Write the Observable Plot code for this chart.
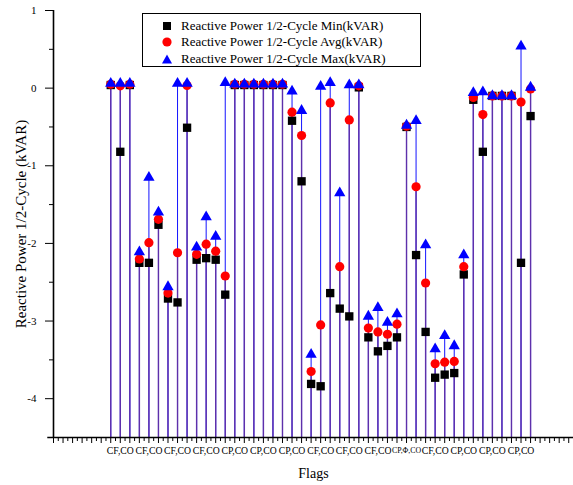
<!DOCTYPE html>
<html>
<head>
<meta charset="utf-8">
<script src="https://cdn.jsdelivr.net/npm/d3@7"></script>
<script src="https://cdn.jsdelivr.net/npm/@observablehq/plot@0.6"></script>
<style>
  html, body { margin: 0; padding: 0; background: #fff; }
  #wrap { position: relative; width: 573px; height: 485px; font-family: "Liberation Serif", "DejaVu Serif", serif; }
  #wrap svg, #wrap svg text { font-family: "Liberation Serif", "DejaVu Serif", serif !important; }
  #legend { position: absolute; left: 142px; top: 13px; width: 279px; height: 54px; border: 1px solid #000; background: #fff; box-sizing: border-box; }
  .row { position: absolute; left: 0; height: 16px; font-size: 13px; line-height: 16px; color: #000; white-space: nowrap; }
  .row svg { position: absolute; left: 18px; top: 2px; }
  .row span { position: absolute; left: 38px; top: 0; }
</style>
</head>
<body>
<div id="wrap"></div>
<script>
// ---- data ----
const flagIndex = d3.range(1, 46);
const minVals = [0.04, -0.82, 0.04, -2.25, -2.25, -1.76, -2.71, -2.76, -0.51, -2.21,
  -2.19, -2.21, -2.66, 0.04, 0.04, 0.04, 0.04, 0.04, 0.04, -0.42,
  -1.20, -3.81, -3.84, -2.64, -2.84, -2.94, 0.01, -3.21, -3.39, -3.32,
  -3.21, -0.50, -2.15, -3.14, -3.73, -3.69, -3.67, -2.40, -0.15, -0.82,
  -0.10, -0.10, -0.10, -2.25, -0.36];
const avgVals = [0.05, 0.03, 0.05, -2.20, -1.99, -1.69, -2.64, -2.12, 0.035, -2.14,
  -2.01, -2.10, -2.42, 0.05, 0.05, 0.05, 0.05, 0.05, 0.05, -0.31,
  -0.61, -3.65, -3.05, -0.19, -2.30, -0.41, 0.03, -3.09, -3.14, -3.17,
  -3.04, -0.49, -1.27, -2.51, -3.55, -3.53, -3.52, -2.30, -0.12, -0.34,
  -0.10, -0.10, -0.10, -0.18, -0.01];
const maxVals = [0.06, 0.06, 0.06, -2.11, -1.15, -1.60, -2.56, 0.06, 0.06, -2.05,
  -1.66, -1.91, 0.07, 0.05, 0.05, 0.05, 0.05, 0.05, 0.05, -0.04,
  -0.29, -3.43, 0.02, 0.07, -1.35, 0.04, 0.04, -2.94, -2.83, -3.02,
  -2.91, -0.48, -0.42, -2.02, -3.36, -3.19, -3.32, -2.15, -0.06, -0.05,
  -0.10, -0.10, -0.10, 0.54, 0.01];
const labelIndex = [2, 5, 8, 11, 14, 17, 20, 23, 26, 29, 32, 35, 38, 41, 44];
const flagLabels = ["CF,CO", "CF,CO", "CF,CO", "CF,CO", "CP,CO", "CP,CO", "CP,CO", "CF,CO",
  "CF,CO", "CF,CO", "CP,Φ,CO", "CF,CO", "CP,CO", "CP,CO", "CP,CO"];
const yTicks = [-4, -3, -2, -1, 0, 1];
const yMinorTicks = [-3.5, -2.5, -1.5, -0.5, 0.5];
const seriesNames = ["Reactive Power 1/2-Cycle Min(kVAR)", "Reactive Power 1/2-Cycle Avg(kVAR)", "Reactive Power 1/2-Cycle Max(kVAR)"];
const yTitle = "Reactive Power 1/2-Cycle (kVAR)";
const xTitle = "Flags";
const xDomain = [-5, 49.5];
const yDomain = [-4.5, 1];

const data = flagIndex.map((i, k) => ({ i, min: minVals[k], avg: avgVals[k], max: maxVals[k] }));
const tickLabels = labelIndex.map((i, k) => ({ i, label: flagLabels[k] }));
const xMajor = d3.range(xDomain[0], xDomain[1] + 0.01, 1);
const xHalf = d3.range(xDomain[0] + 0.5, xDomain[1] + 0.01, 1);
const serif = "Liberation Serif, DejaVu Serif, serif";

const chart = Plot.plot({
  width: 573,
  height: 485,
  marginLeft: 53,
  marginRight: 0,
  marginTop: 10,
  marginBottom: 48,
  style: { fontFamily: serif, background: "#fff", overflow: "visible" },
  x: { domain: xDomain, axis: null },
  y: { domain: yDomain, axis: null },
  marks: [
    // drop lines
    Plot.ruleX(data, { x: "i", y1: yDomain[0], y2: "max", stroke: "#1414ff", strokeWidth: 1 }),
    Plot.ruleX(data, { x: "i", y1: yDomain[0], y2: "avg", stroke: "#5e30aa", strokeWidth: 1.4 }),
    // markers
    Plot.dot(data, { x: "i", y: "min", symbol: "square", fill: "#000", r: 4.7 }),
    Plot.dot(data, { x: "i", y: "avg", symbol: "circle", fill: "#ff0000", r: 4.6 }),
    Plot.dot(data, { x: "i", y: "max", symbol: "triangle", fill: "#0000ff", r: 4.2 }),
    // axis lines
    Plot.ruleY([yDomain[0]], { x1: xDomain[0] - 0.6, x2: xDomain[1], stroke: "#000", strokeWidth: 1.6 }),
    Plot.ruleX([xDomain[0]], { y1: yDomain[0], y2: yDomain[1], stroke: "#000", strokeWidth: 1.6 }),
    // x ticks
    Plot.axisX({ ticks: xMajor, tickSize: 6, tickFormat: () => "", label: null, strokeWidth: 1 }),
    Plot.axisX({ ticks: xHalf, tickSize: 4, tickFormat: () => "", label: null, strokeWidth: 1 }),
    // x tick labels (flags)
    Plot.text(tickLabels, { x: "i", text: "label", frameAnchor: "bottom", lineAnchor: "top", dy: 10,
      fontSize: d => d.label.length > 5 ? 7.8 : 9.7, fontFamily: serif, fill: "#000" }),
    Plot.axisX({ ticks: [], label: xTitle, labelAnchor: "center", labelOffset: 40, labelArrow: "none",
      fontSize: 14, fontFamily: serif }),
    // y ticks
    Plot.axisY({ ticks: yTicks, tickSize: 8, tickPadding: 9, tickFormat: d => String(d), fontSize: 11,
      fontFamily: serif, label: null, strokeWidth: 1 }),
    Plot.axisY({ ticks: yMinorTicks, tickSize: 4, tickFormat: () => "", label: null, strokeWidth: 1 }),
    Plot.axisY({ ticks: [], label: yTitle, labelAnchor: "center", labelOffset: 38, labelArrow: "none",
      fontSize: 15, fontFamily: serif, dx: -10 })
  ]
});

const wrap = document.getElementById("wrap");
wrap.appendChild(chart);

// legend
const legend = document.createElement("div");
legend.id = "legend";
const syms = [
  '<svg width="12" height="12"><rect x="2" y="2" width="8" height="8" fill="#000"/></svg>',
  '<svg width="12" height="12"><circle cx="6" cy="6" r="4.6" fill="#ff0000"/></svg>',
  '<svg width="12" height="12"><path d="M6,1.5L11,10.5L1,10.5Z" fill="#0000ff"/></svg>'
];
seriesNames.forEach((name, k) => {
  const row = document.createElement("div");
  row.className = "row";
  row.style.top = (4 + k * 16.3) + "px";
  row.innerHTML = syms[k] + "<span>" + name + "</span>";
  legend.appendChild(row);
});
wrap.appendChild(legend);
</script>
</body>
</html>
